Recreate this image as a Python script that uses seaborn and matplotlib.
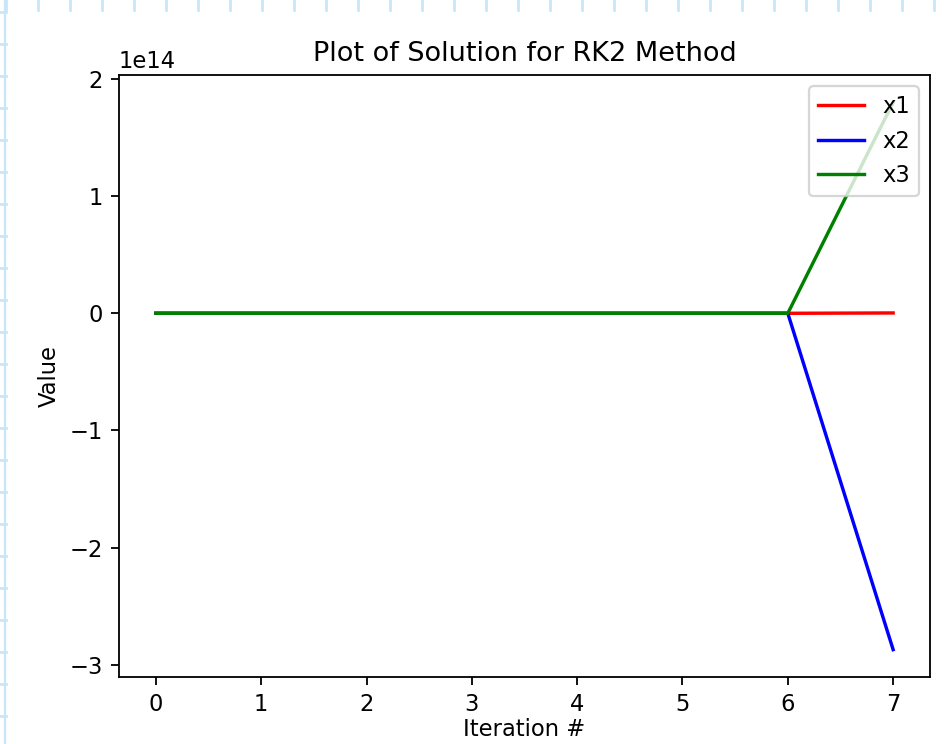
import numpy as np
import pandas as pd
import matplotlib
matplotlib.use("Agg")
import matplotlib.pyplot as plt
from matplotlib.lines import Line2D
import seaborn as sns

iterations = [0, 1, 2, 3, 4, 5, 6, 7]
x1 = [1.0, 1.5, 3.2, 14.0, 260.0, 9.1e4, 1.2e10, 3.0e11]
x2 = [1.0, -2.0, -6.5, -45.0, -1.9e3, -8.4e5, -4.0e9, -2.87e14]
x3 = [1.0, 1.8, 4.9, 31.0, 1.2e3, 5.2e5, 2.5e9, 1.80e14]

df = pd.DataFrame({"iteration": iterations * 3,
                   "value": x1 + x2 + x3,
                   "series": ["x1"] * 8 + ["x2"] * 8 + ["x3"] * 8})

dpi = 163
fig = plt.figure(figsize=(952 / dpi, 744 / dpi), dpi=dpi)
ax = fig.add_axes([119 / 952, 67 / 744, 811 / 952, 602 / 744])

sns.lineplot(data=df, x="iteration", y="value", hue="series",
             palette={"x1": "red", "x2": "blue", "x3": "green"}, ax=ax)
ax.legend(loc="upper right")
ax.set_title("Plot of Solution for RK2 Method")
ax.set_xlabel("Iteration #", labelpad=1)
ax.set_ylabel("Value")

# notebook-style dashed background at the edges
grid_col = "#c8e6fa"
for px in range(6, 952, 32):
    fig.add_artist(Line2D([px / 952, px / 952], [1 - 10 / 744, 1], color=grid_col, lw=1.2))
for py in range(12, 744, 32):
    fig.add_artist(Line2D([0, 6 / 952], [1 - py / 744, 1 - py / 744], color=grid_col, lw=1.2))
fig.add_artist(Line2D([5 / 952, 5 / 952], [0, 1], color=grid_col, lw=1.0))

fig.savefig("out.png", dpi=dpi)
